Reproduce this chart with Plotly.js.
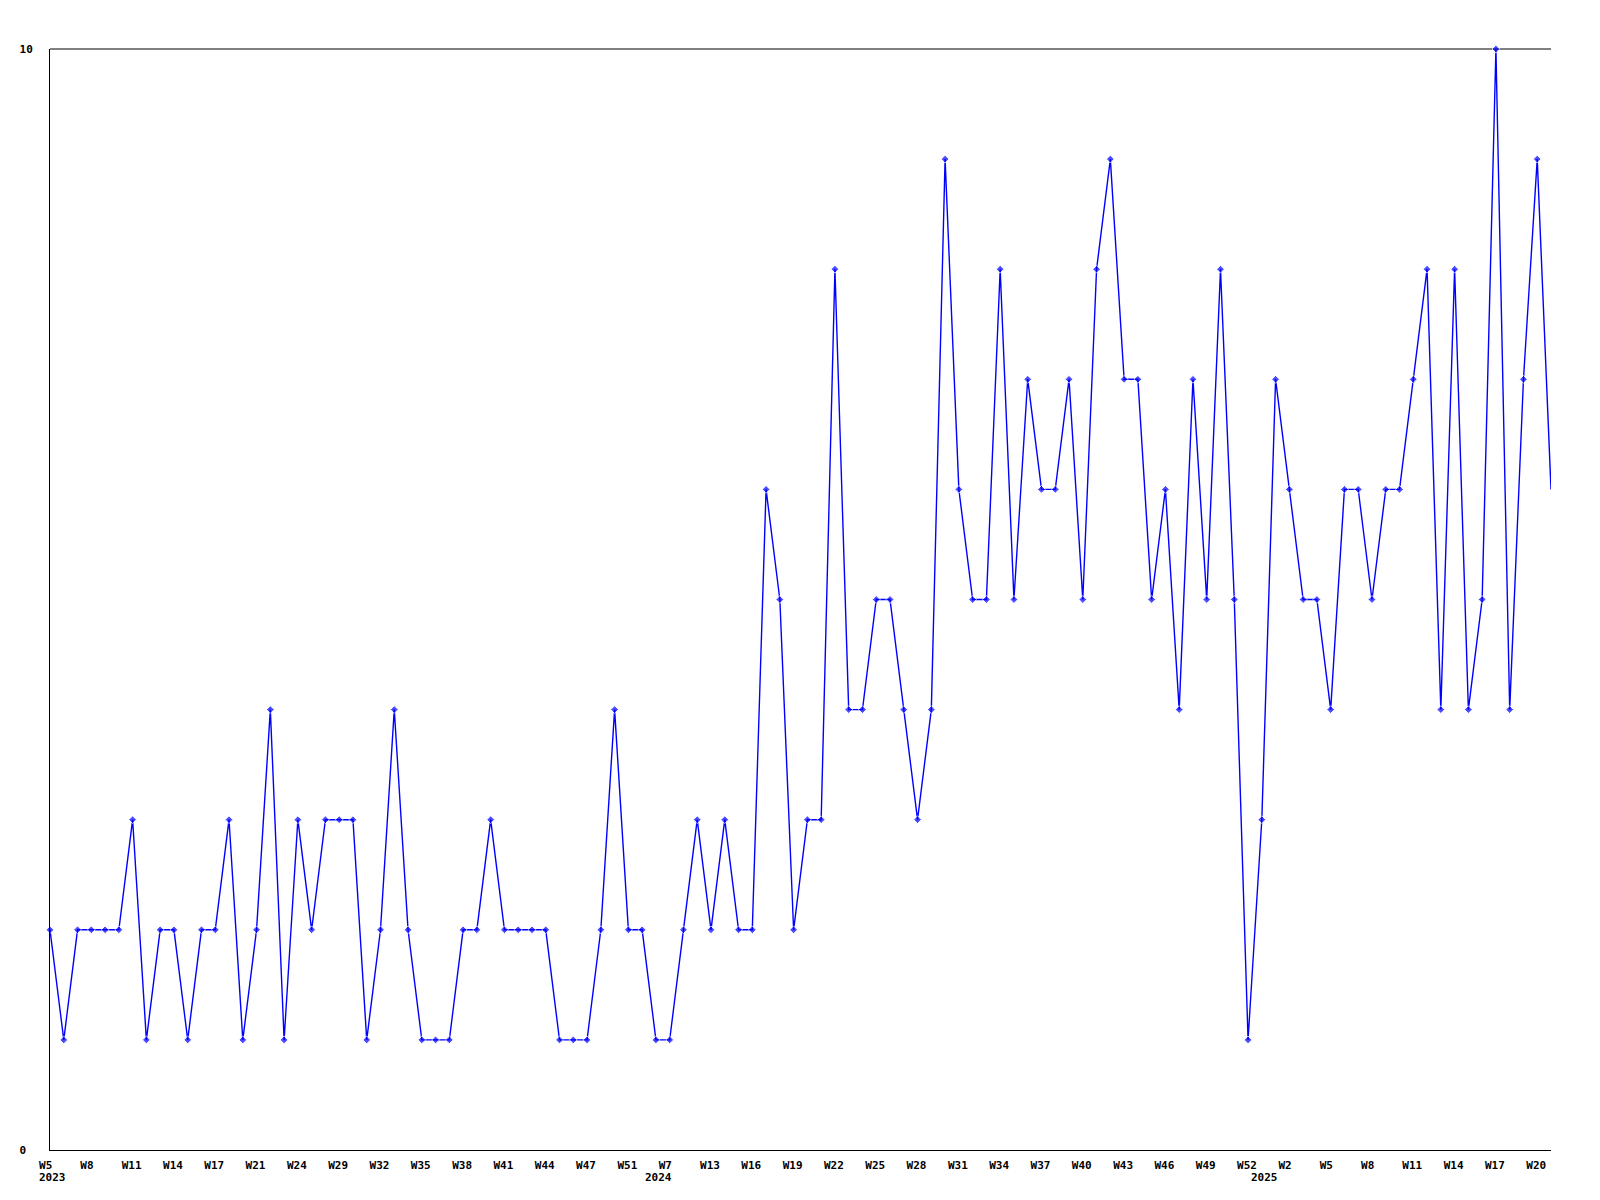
<!DOCTYPE html>
<html><head><meta charset="utf-8">
<script src="https://cdn.plot.ly/plotly-3.0.1.min.js"></script>
<style>html,body{margin:0;padding:0;background:#fff}#chart{width:1600px;height:1200px}</style>
</head><body><div id="chart"></div>
<script>
const years = [2023, 2024, 2025];
const weeks2023 = [5,6,7,8,9,10,11,12,13,14,15,16,17,18,20,21,22,23,24,26,27,29,30,31,32,33,34,35,36,37,38,39,40,41,42,43,44,45,46,47,49,50,51,52];
const weeks2024 = [1,7,9,11,13,14,15,16,17,18,19,20,21,22,23,24,25,26,27,28,29,30,31,32,33,34,35,36,37,38,39,40,41,42,43,44,45,46,47,48,49,50,51,52];
const weeks2025 = [0,1,2,3,4,5,6,7,8,9,10,11,12,13,14,15,16,17,18,19,20,21];
const counts2023 = [2,1,2,2,2,2,3,1,2,2,1,2,2,3,1,2,4,1,3,2,3,3,3,1,2,4,2,1,1,1,2,2,3,2,2,2,2,1,1,1,2,4,2,2];
const counts2024 = [1,1,2,3,2,3,2,2,6,5,2,3,3,8,4,4,5,5,4,3,4,9,6,5,5,8,5,7,6,6,7,5,8,9,7,7,5,6,4,7,5,8,5,1];
const counts2025 = [3,7,6,5,5,4,6,6,5,6,6,7,8,4,8,4,5,10,4,7,9,6];
const yTickVals = [0, 10];

const weekLists = [weeks2023, weeks2024, weeks2025];
const countLists = [counts2023, counts2024, counts2025];
const cats = [], vals = [], short = [], yearStart = [];
years.forEach((y, k) => {
  yearStart.push(cats.length);
  weekLists[k].forEach((w, j) => {
    cats.push(y + '-W' + String(w).padStart(2, '0'));
    vals.push(countLists[k][j]);
    short.push('W' + w);
  });
});
const NB = '\u00a0';
const tickvals = [], ticktext = [];
for (let i = 0; i < cats.length; i += 3) {
  tickvals.push(cats[i]);
  let t = short[i];
  while (t.length < 3) t += NB;
  ticktext.push(t);
}
const font = {family: '"DejaVu Sans Mono", monospace', size: 11, color: '#000', weight: 'bold'};
// the final (current, incomplete) week is drawn without a marker
const markerSizes = cats.map((c, i) => (i === cats.length - 1 ? 0 : 6));

const trace = {
  x: cats, y: vals, type: 'scatter', mode: 'lines+markers',
  line: {color: '#0000ff', width: 1.4},
  marker: {color: '#0000ff', symbol: 'diamond', size: markerSizes},
  cliponaxis: false, hoverinfo: 'x+y'
};

const annotations = years.map((y, k) => ({
  text: String(y), x: yearStart[k], xref: 'x', y: 0, yref: 'paper',
  xanchor: 'left', yanchor: 'top', xshift: -13, yshift: -19,
  showarrow: false, font: font
}));

const layout = {
  width: 1600, height: 1200,
  margin: {l: 50, r: 49, t: 49, b: 50, pad: 0},
  paper_bgcolor: '#fff', plot_bgcolor: '#fff',
  showlegend: false,
  font: font,
  xaxis: {
    type: 'category', range: [0, cats.length - 1],
    showline: true, mirror: false, linecolor: '#000', linewidth: 1,
    showgrid: false, zeroline: false, ticks: '',
    tickvals: tickvals, ticktext: ticktext, tickangle: 0,
    ticklabelshift: -1, ticklabelstandoff: 5,
    tickfont: font
  },
  yaxis: {
    range: [0, 10], showline: true, mirror: false, linecolor: '#000', linewidth: 1,
    showgrid: false, zeroline: false, ticks: '',
    tickvals: yTickVals, ticktext: ['0' + NB, '10'],
    ticklabelstandoff: 14, tickfont: font
  },
  shapes: [{
    type: 'line', xref: 'paper', yref: 'paper', x0: 0, x1: 1, y0: 1, y1: 1,
    line: {color: '#000', width: 1}, layer: 'below'
  }],
  annotations: annotations
};
Plotly.newPlot('chart', [trace], layout, {displayModeBar: false, staticPlot: true});
</script>
</body></html>
